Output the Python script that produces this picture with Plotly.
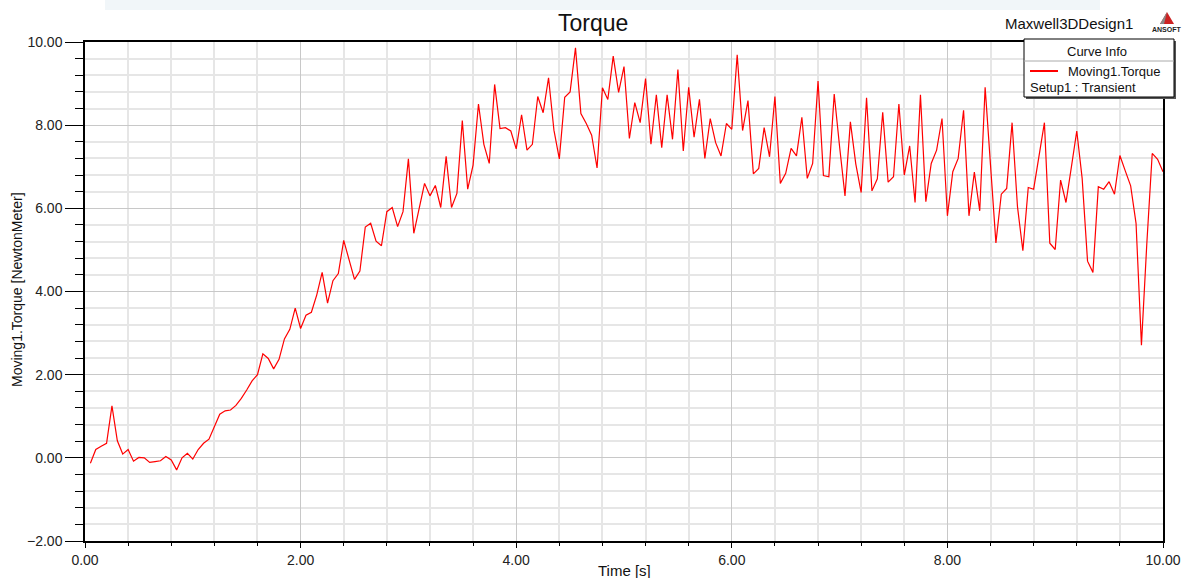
import plotly.graph_objects as go

# ---- data ----
time_s = [round(0.05 * (i + 1), 2) for i in range(200)]
torque = [
    -0.13, 0.20, 0.28, 0.35, 1.25, 0.41, 0.09, 0.20, -0.08, 0.01,
    0.00, -0.11, -0.09, -0.07, 0.03, -0.05, -0.29, 0.00, 0.11, -0.03,
    0.20, 0.35, 0.45, 0.75, 1.05, 1.13, 1.15, 1.26, 1.43, 1.63,
    1.85, 2.00, 2.50, 2.39, 2.14, 2.37, 2.86, 3.09, 3.60, 3.11,
    3.43, 3.50, 3.92, 4.46, 3.72, 4.26, 4.43, 5.23, 4.79, 4.29,
    4.49, 5.55, 5.64, 5.21, 5.10, 5.92, 6.02, 5.56, 5.92, 7.19,
    5.40, 6.00, 6.60, 6.30, 6.55, 6.02, 7.25, 6.02, 6.36, 8.11,
    6.46, 7.04, 8.51, 7.54, 7.08, 8.98, 7.92, 7.94, 7.86, 7.43,
    8.25, 7.40, 7.54, 8.69, 8.30, 9.14, 7.88, 7.19, 8.67, 8.80,
    9.86, 8.28, 8.04, 7.76, 6.97, 8.90, 8.62, 9.66, 8.79, 9.41,
    7.68, 8.54, 8.06, 9.12, 7.54, 8.73, 7.46, 8.73, 7.66, 9.34,
    7.38, 8.91, 7.71, 8.62, 7.20, 8.16, 7.58, 7.26, 8.04, 7.90,
    9.69, 7.87, 8.59, 6.83, 6.96, 7.94, 7.24, 8.69, 6.60, 6.84,
    7.44, 7.26, 8.19, 6.72, 7.08, 9.06, 6.79, 6.76, 8.75, 7.48,
    6.30, 8.08, 7.07, 6.38, 8.66, 6.42, 6.71, 8.31, 6.63, 6.76,
    8.51, 6.80, 7.50, 6.14, 8.73, 6.16, 7.08, 7.40, 8.16, 5.82,
    6.88, 7.20, 8.36, 5.82, 6.87, 5.94, 8.91, 7.04, 5.17, 6.34,
    6.48, 8.06, 6.04, 4.98, 6.50, 6.46, 7.28, 8.06, 5.16, 5.01,
    6.68, 6.14, 6.99, 7.86, 6.72, 4.73, 4.46, 6.52, 6.46, 6.64,
    6.34, 7.27, 6.90, 6.54, 5.64, 2.71, 5.16, 7.32, 7.18, 6.88,
]

title_text = "Torque"
design_text = "Maxwell3DDesign1"
x_title = "Time [s]"
y_title = "Moving1.Torque [NewtonMeter]"
legend_header = "Curve Info"
series_name = "Moving1.Torque"
setup_name = "Setup1 : Transient"

W, H = 1187, 578
L, R, T, B = 85, 24, 42, 37
PW, PH = W - L - R, H - T - B


def px(x):
    return (x - L) / PW


def py(y):
    return (H - B - y) / PH


FONT = "Liberation Sans, Arial, sans-serif"

fig = go.Figure()
fig.add_trace(go.Scatter(
    x=time_s, y=torque, mode="lines", name=series_name,
    line=dict(color="#ff0000", width=1.2), showlegend=False,
))

shapes = []
annotations = []

# faded header band
shapes.append(dict(type="rect", xref="paper", yref="paper",
                   x0=px(105), x1=px(1100), y0=py(10), y1=py(0),
                   fillcolor="rgba(225,236,241,0.45)", line=dict(width=0), layer="below"))

# legend box shadow + box
shapes.append(dict(type="rect", xref="paper", yref="paper",
                   x0=px(1026), x1=px(1176), y0=py(99), y1=py(41),
                   fillcolor="#555555", line=dict(width=0)))
shapes.append(dict(type="rect", xref="paper", yref="paper",
                   x0=px(1024), x1=px(1174), y0=py(97), y1=py(39),
                   fillcolor="white", line=dict(color="black", width=1)))
shapes.append(dict(type="line", xref="paper", yref="paper",
                   x0=px(1024), x1=px(1174), y0=py(61), y1=py(61),
                   line=dict(color="#aaaaaa", width=1)))
shapes.append(dict(type="line", xref="paper", yref="paper",
                   x0=px(1030), x1=px(1058), y0=py(71), y1=py(71),
                   line=dict(color="#ff0000", width=2)))

annotations.append(dict(text=legend_header, xref="paper", yref="paper",
                        x=px(1097), y=py(51), xanchor="center", yanchor="middle",
                        showarrow=False, font=dict(family=FONT, size=13, color="#111111")))
annotations.append(dict(text=series_name, xref="paper", yref="paper",
                        x=px(1066), y=py(72), xanchor="left", yanchor="middle",
                        showarrow=False, font=dict(family=FONT, size=13, color="#111111")))
annotations.append(dict(text=setup_name, xref="paper", yref="paper",
                        x=px(1028), y=py(87), xanchor="left", yanchor="middle",
                        showarrow=False, font=dict(family=FONT, size=13, color="#111111")))

# design name + ANSOFT logo
annotations.append(dict(text=design_text, xref="paper", yref="paper",
                        x=px(1135), y=py(23), xanchor="right", yanchor="middle",
                        showarrow=False, font=dict(family=FONT, size=15, color="#111111")))
shapes.append(dict(type="path", xref="paper", yref="paper",
                   path=f"M {px(1160)} {py(24)} L {px(1167)} {py(12)} L {px(1174)} {py(24)} Z",
                   fillcolor="#cc2222", line=dict(width=0)))
shapes.append(dict(type="path", xref="paper", yref="paper",
                   path=f"M {px(1160)} {py(24)} L {px(1167)} {py(12)} L {px(1164)} {py(24)} Z",
                   fillcolor="#888888", line=dict(width=0)))
annotations.append(dict(text="<b>ANSOFT</b>", xref="paper", yref="paper",
                        x=px(1167), y=py(29), xanchor="center", yanchor="middle",
                        showarrow=False, font=dict(family=FONT, size=7, color="#222222")))

# title
annotations.append(dict(text=title_text, xref="paper", yref="paper",
                        x=px(593), y=py(23), xanchor="center", yanchor="middle",
                        showarrow=False, font=dict(family=FONT, size=23, color="#111111")))
# axis titles
annotations.append(dict(text=x_title, xref="paper", yref="paper",
                        x=px(624), y=py(570), xanchor="center", yanchor="middle",
                        showarrow=False, font=dict(family=FONT, size=15, color="#111111")))
annotations.append(dict(text=y_title, xref="paper", yref="paper",
                        x=px(17), y=py(290), xanchor="center", yanchor="middle",
                        textangle=-90, showarrow=False,
                        font=dict(family=FONT, size=14, color="#111111")))

fig.update_layout(
    width=W, height=H,
    margin=dict(l=L, r=R, t=T, b=B, pad=0),
    paper_bgcolor="white", plot_bgcolor="white",
    font=dict(family=FONT, size=14, color="#222222"),
    shapes=shapes, annotations=annotations,
    showlegend=False,
    xaxis=dict(
        range=[0, 10], tick0=0, dtick=2, tickformat=".2f",
        showline=True, linecolor="black", linewidth=1.5, mirror=True,
        ticks="outside", ticklen=5, tickcolor="black", tickwidth=1,
        showgrid=True, gridcolor="#c8c8c8", gridwidth=1,
        zeroline=False, automargin=False,
        tickfont=dict(family=FONT, size=14, color="#222222"),
        minor=dict(tick0=0, dtick=0.4, ticks="outside", ticklen=3, tickcolor="black",
                   showgrid=True, gridcolor="#e6e6e6", gridwidth=1.5),
    ),
    yaxis=dict(
        range=[-2, 10], tick0=0, dtick=2, tickformat=".2f",
        showline=True, linecolor="black", linewidth=1.5, mirror=True,
        ticks="outside", ticklen=18, tickcolor="black", tickwidth=1,
        showgrid=True, gridcolor="#c8c8c8", gridwidth=1,
        zeroline=False, automargin=False,
        tickfont=dict(family=FONT, size=14, color="#222222"),
        minor=dict(tick0=0, dtick=0.4, ticks="outside", ticklen=8, tickcolor="black",
                   showgrid=True, gridcolor="#e6e6e6", gridwidth=1.5),
    ),
)

fig.write_html(
    "out.html",
    post_script="document.body.style.margin='0';document.body.style.overflow='hidden';",
)
